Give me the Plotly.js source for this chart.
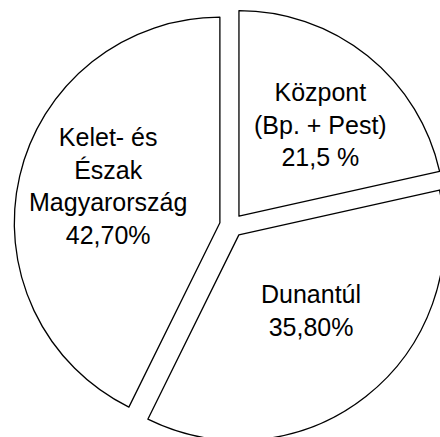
<!DOCTYPE html>
<html>
<head>
<meta charset="utf-8">
<script src="https://cdn.plot.ly/plotly-3.0.1.min.js"></script>
<style>
html,body{margin:0;padding:0;background:#fff;overflow:hidden;width:440px;height:437px;}
#chart{width:459px;height:453px;}
</style>
</head>
<body>
<div id="chart"></div>
<script>
var regions = ["Központ (Bp. + Pest)", "Dunantúl", "Kelet- és Észak Magyarország"];
var shares = [21.5, 35.8, 42.7];
var sliceLabels = ["Központ<br>(Bp. + Pest)<br>21,5 %", "Dunantúl<br>35,80%", "Kelet- és<br>Észak<br>Magyarország<br>42,70%"];

var trace = {
  type: "pie",
  labels: regions,
  values: shares,
  text: sliceLabels,
  textinfo: "none",
  sort: false,
  direction: "clockwise",
  rotation: 0,
  pull: [0.058, 0.058, 0.058],
  marker: {colors: ["#ffffff", "#ffffff", "#ffffff"], line: {color: "#000000", width: 1.3}},
  hoverinfo: "none"
};

// plot area: l=14, t=8, 435x435 px
function px(x) { return (x - 14) / 435; }
function py(y) { return 1 - (y - 8) / 435; }
var labelSpots = [[320, 125], [311, 310], [107.5, 186]];

var font = {family: "Liberation Sans, Arial, sans-serif", size: 25, color: "#000000"};
var annotations = sliceLabels.map(function (t, i) {
  return {
    text: t, xref: "paper", yref: "paper",
    x: px(labelSpots[i][0]), y: py(labelSpots[i][1]),
    xanchor: "center", yanchor: "middle", align: "center",
    showarrow: false, font: font
  };
});

var layout = {
  width: 459, height: 453,
  margin: {l: 14, r: 10, t: 8, b: 10},
  showlegend: false,
  paper_bgcolor: "#ffffff",
  plot_bgcolor: "#ffffff",
  annotations: annotations
};

Plotly.newPlot("chart", [trace], layout, {displayModeBar: false, staticPlot: true});
</script>
</body>
</html>
